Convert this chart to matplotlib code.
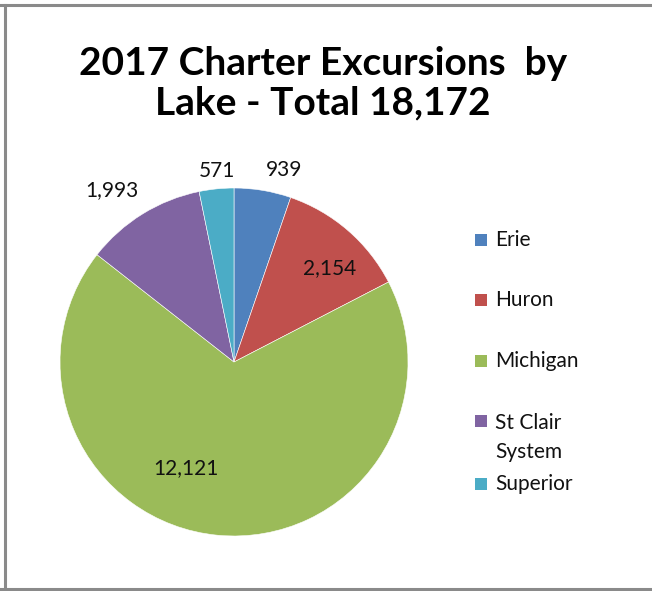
import matplotlib.pyplot as plt
from matplotlib.patches import Rectangle
from matplotlib.lines import Line2D
import numpy as np

# Charter excursions per lake, 2017
lakes = ['Erie', 'Huron', 'Michigan', 'St Clair\nSystem', 'Superior']
trips = [939, 2154, 12121, 1993, 571]
colors = ['#4F81BD', '#C0504D', '#9BBB59', '#8064A2', '#4BACC6']
title = '2017 Charter Excursions  by\nLake - Total 18,172'

# label placement: radius (as fraction of pie radius) and angle nudge in degrees
label_r = [1.14, 0.77, 0.67, 1.21, 1.10]
label_dth = [-5.0, -4.8, -19.0, 3.6, -0.7]

W, H = 652, 591
fig = plt.figure(figsize=(W / 100, H / 100), dpi=100)
fig.patch.set_facecolor('white')
font = 'Lato'

# chart frame: left, top and bottom edges only
for xs, ys in [([0, W], [H - 5, H - 5]), ([5, 5], [0, H - 5]), ([0, W], [2, 2])]:
    fig.add_artist(Line2D(np.array(xs) / W, np.array(ys) / H,
                          transform=fig.transFigure, color='#8a8a8a', lw=2.2))

fig.text(323 / W, 1 - 83 / H, title, ha='center', va='center',
         fontsize=28, fontweight='bold', family=font, linespacing=1.15)

# pie axes
cx, cy, R = 234, 362, 174
ax = fig.add_axes([(cx - R) / W, (H - cy - R) / H, 2 * R / W, 2 * R / H])
wedges, _ = ax.pie(trips, colors=colors, startangle=90, counterclock=False,
                   radius=1.0, wedgeprops=dict(edgecolor='white', linewidth=0.4))
ax.set_xlim(-1, 1)
ax.set_ylim(-1, 1)
ax.set_aspect('equal')
ax.axis('off')

for w, v, r, dth in zip(wedges, trips, label_r, label_dth):
    th = np.deg2rad((w.theta1 + w.theta2) / 2 + dth)
    ax.text(r * np.cos(th), r * np.sin(th), f'{v:,}', ha='center', va='center',
            fontsize=15, family=font, color='#111111', clip_on=False)

# legend drawn by hand so the two-line entry wraps like the original
leg_y = [240, 300, 361, 421, 484]
for lab, c, y in zip(lakes, colors, leg_y):
    fig.add_artist(Rectangle((475 / W, 1 - (y + 6) / H), 12 / W, 12 / H,
                             transform=fig.transFigure, facecolor=c, edgecolor='none'))
    if '\n' in lab:
        fig.text(495 / W, 1 - (y - 8) / H, lab, ha='left', va='top',
                 fontsize=15, family=font, color='#111111', linespacing=1.55)
    else:
        fig.text(495 / W, 1 - y / H, lab, ha='left', va='center',
                 fontsize=15, family=font, color='#111111')

fig.savefig('out.png', dpi=100, facecolor='white')
